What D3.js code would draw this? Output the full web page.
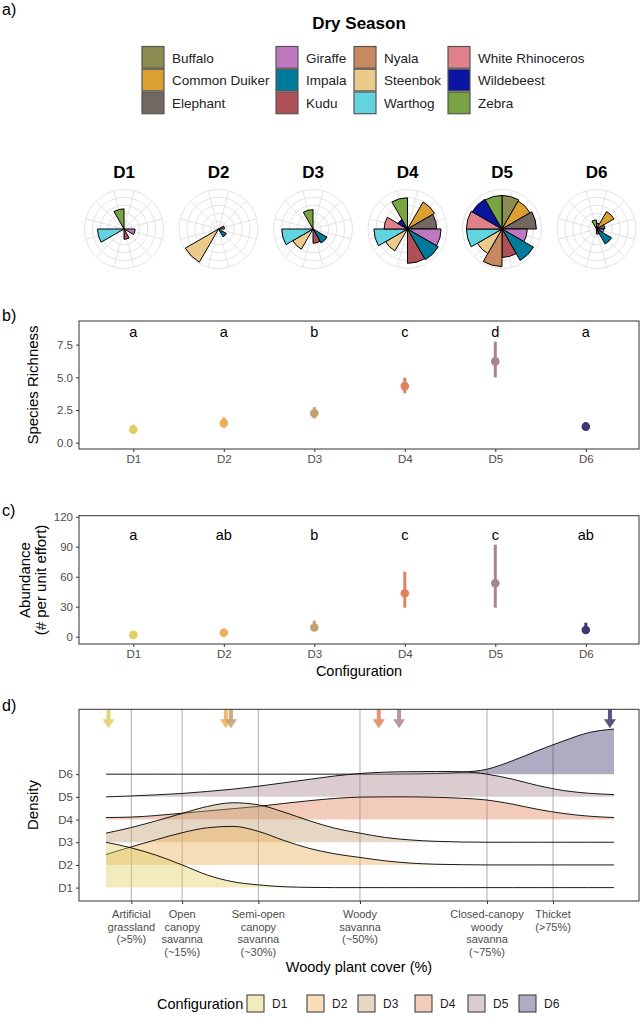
<!DOCTYPE html>
<html><head><meta charset="utf-8">
<script src="https://cdn.jsdelivr.net/npm/d3@7"></script>
<style>
body{margin:0;background:#fff}
svg{display:block}
text{font-family:"Liberation Sans",Arial,sans-serif}
</style>
</head><body>
<svg id="c" width="641" height="1020"></svg>
<script>
// ---------------- DATA ----------------
const species = ["Buffalo","Common Duiker","Elephant","Giraffe","Impala","Kudu","Nyala","Steenbok","Warthog","White Rhinoceros","Wildebeest","Zebra"];
const speciesColors = ["#8C8C52","#DCA032","#736860","#BE78BF","#007A9A","#AF5058","#C7895F","#EACB8A","#62D4E0","#E0808A","#0A149E","#79A443"];
const configs = ["D1","D2","D3","D4","D5","D6"];
const configColors = ["#DFCF62","#EDAE55","#C49F72","#E0825E","#A9858F","#3D3770"];

// polar (relative activity, same order as species)
const polarD1 = [0,0,0,2.8,0,2.6,0,0,6.7,0,0,5.1];
const polarD2 = [0,0,1.5,0,2.3,0,0,9.7,0,0,0,0];
const polarD3 = [0,0,0,0,4.1,3.6,0,5.9,7.9,0,0,4.9];
const polarD4 = [0,7.9,7.4,8.5,9.0,8.7,0,6.4,8.5,5.9,2.8,7.9];
const polarD5 = [8.5,8.2,8.7,6.4,9.2,7.2,9.5,7.2,9.0,9.0,8.7,8.5];
const polarD6 = [1.5,5.1,2.1,1.8,4.4,1.3,0,0,0,0,0,2.3];

// panel b: species richness
const richness   = [1.0,1.5,2.25,4.33,6.22,1.23];
const richnessLo = [0.7,1.15,1.86,3.78,5.0,0.95];
const richnessHi = [1.38,1.95,2.72,4.97,7.73,1.58];
const richnessLetters = ["a","a","b","c","d","a"];
const richnessTicks = [0,2.5,5,7.5];

// panel c: abundance
const abundance   = [1.8,4,9.2,43.5,53.5,6.7];
const abundanceLo = [0,1,6,29,29,3.5];
const abundanceHi = [5,8,16,65,92,14];
const abundanceLetters = ["a","ab","b","c","c","ab"];
const abundanceTicks = [0,30,60,90,120];

// panel d: woody cover density ridges
const coverBreaks = [5,15,30,50,75,88];
const coverLabels = [
  ["Artificial","grassland","(>5%)"],
  ["Open","canopy","savanna","(~15%)"],
  ["Semi-open","canopy","savanna","(~30%)"],
  ["Woody","savanna","(~50%)"],
  ["Closed-canopy","woody","savanna","(~75%)"],
  ["Thicket","(>75%)"]
];
const densityX  = [0,5,10,15,20,25,30,35,40,45,50,55,60,65,70,75,80,85,90,95,100];
const densityD1 = [2.0,1.75,1.42,1.0,0.55,0.26,0.12,0.04,0.01,0,0,0,0,0,0,0,0,0,0,0,0];
const densityD2 = [0.46,0.8,1.12,1.42,1.64,1.7,1.48,1.08,0.73,0.49,0.33,0.18,0.08,0.03,0.01,0,0,0,0,0,0];
const densityD3 = [0.4,0.65,0.95,1.27,1.58,1.74,1.65,1.33,0.95,0.62,0.4,0.21,0.1,0.04,0.01,0,0,0,0,0,0];
const densityD4 = [0.09,0.11,0.18,0.28,0.38,0.48,0.58,0.71,0.83,0.93,0.99,1.0,1.0,0.98,0.94,0.86,0.68,0.45,0.27,0.15,0.09];
const densityD5 = [0,0.04,0.09,0.15,0.24,0.34,0.47,0.62,0.77,0.92,1.03,1.09,1.11,1.12,1.11,1.0,0.78,0.5,0.28,0.16,0.1];
const densityD6 = [0,0,0,0,0,0,0,0,0,0,0,0,0.01,0.03,0.08,0.22,0.59,1.04,1.46,1.83,1.99];
const arrowX = [0.5,23.6,24.6,53.7,57.7,99.2];

// ---------------- DRAW ----------------
const svg = d3.select("#c");
const grayTxt = "#4D4D4D";

function label(t,x,y,size,opts={}){
  const e = svg.append("text").attr("x",x).attr("y",y).attr("font-size",size).text(t);
  if(opts.anchor) e.attr("text-anchor",opts.anchor);
  if(opts.bold) e.attr("font-weight","bold");
  if(opts.fill) e.attr("fill",opts.fill);
  if(opts.rot) e.attr("transform",`rotate(-90,${x},${y})`);
  return e;
}

// ---- panel a ----
label("a)",2,15,16);
label("Dry Season",359,29,17,{anchor:"middle",bold:true});
const legCols=[142,276,354,448], legRows=[46.5,69.2,92];
species.forEach((s,i)=>{
  const c=Math.floor(i/3), r=i%3;
  svg.append("rect").attr("x",legCols[c]).attr("y",legRows[r]).attr("width",22).attr("height",21.7)
    .attr("fill",speciesColors[i]).attr("stroke","#555").attr("stroke-width",1.2);
  label(s,legCols[c]+30,legRows[r]+16,13.5,{fill:"#222"});
});

const polarData=[polarD1,polarD2,polarD3,polarD4,polarD5,polarD6];
const R=39.5, cy=229;
const ang=d3.scaleBand().domain(species).range([0,2*Math.PI]);
const rad=d3.scaleLinear().domain([0,10]).range([0,R]);
const arc=d3.arc().innerRadius(0).outerRadius(d=>rad(d.v))
  .startAngle(d=>ang(d.s)).endAngle(d=>ang(d.s)+ang.bandwidth());
configs.forEach((cfg,k)=>{
  const cx=124+k*94.5;
  const g=svg.append("g").attr("transform",`translate(${cx},${cy})`);
  rad.ticks(5).filter(t=>t>0).forEach(t=>{
    g.append("circle").attr("r",rad(t)).attr("fill","none").attr("stroke","#DCDCDC").attr("stroke-width",0.8);
  });
  species.forEach(s=>{
    const a=ang(s)+ang.bandwidth()/2;
    g.append("line").attr("x1",0).attr("y1",0).attr("x2",R*Math.sin(a)).attr("y2",-R*Math.cos(a))
      .attr("stroke","#DCDCDC").attr("stroke-width",0.8);
  });
  const dat=species.map((s,i)=>({s,v:polarData[k][i],c:speciesColors[i]})).filter(d=>d.v>0);
  g.selectAll("path.bar").data(dat).join("path").attr("class","bar").attr("d",arc)
    .attr("fill",d=>d.c).attr("stroke","#000").attr("stroke-width",1);
  label(cfg,cx,178,17,{anchor:"middle",bold:true});
});

// ---- generic point-range panel ----
function pointPanel(top,bottom,domain,ticks,fmt,vals,lo,hi,letters,letterY,tag,tagY){
  const L=79, Rr=639;
  const x=d3.scalePoint().domain(configs).range([133.3,585.8]);
  const y=d3.scaleLinear().domain(domain).range([bottom,top]);
  label(tag,2,tagY,16);
  const ay=svg.append("g").attr("transform",`translate(${L},0)`)
    .call(d3.axisLeft(y).tickValues(ticks).tickFormat(fmt).tickSize(3).tickPadding(3));
  const ax=svg.append("g").attr("transform",`translate(0,${bottom})`)
    .call(d3.axisBottom(x).tickSize(3).tickPadding(3));
  [ay,ax].forEach(a=>{a.select(".domain").remove();
    a.selectAll("line").attr("stroke","#333");
    a.selectAll("text").attr("fill",grayTxt).attr("font-size",11.5).attr("font-family","Liberation Sans, Arial, sans-serif");});
  svg.append("rect").attr("x",L).attr("y",top).attr("width",Rr-L).attr("height",bottom-top)
    .attr("fill","none").attr("stroke","#333").attr("stroke-width",1);
  configs.forEach((c,i)=>{
    svg.append("line").attr("x1",x(c)).attr("x2",x(c)).attr("y1",y(lo[i])).attr("y2",y(hi[i]))
      .attr("stroke",configColors[i]).attr("stroke-width",3);
    svg.append("circle").attr("cx",x(c)).attr("cy",y(vals[i])).attr("r",4.3).attr("fill",configColors[i]);
    label(letters[i],x(c),y(letterY)+5,14.5,{anchor:"middle"});
  });
}
pointPanel(321,449,[-0.48,9.31],richnessTicks,d3.format(".1f"),richness,richnessLo,richnessHi,richnessLetters,8.5,"b)",321);
label("Species Richness",38,385,15,{anchor:"middle",rot:true});

pointPanel(515.7,644,[-7.3,121],abundanceTicks,d3.format("d"),abundance,abundanceLo,abundanceHi,abundanceLetters,102,"c)",516);
label("Abundance",29.5,580,15,{anchor:"middle",rot:true});
label("(# per unit effort)",46,580,15,{anchor:"middle",rot:true});
label("Configuration",359,676,14.5,{anchor:"middle"});

// ---- panel d ----
const dTop=709.3, dBot=901, dL=79, dR=639;
label("d)",2,711,16);
const xd=d3.scaleLinear().domain([-5.31,104.92]).range([dL,dR]);
const yd=d3.scaleLinear().domain([0.41,8.86]).range([dBot,dTop]);
coverBreaks.forEach(b=>{
  svg.append("line").attr("x1",xd(b)).attr("x2",xd(b)).attr("y1",dTop).attr("y2",dBot)
    .attr("stroke","#B5B5B5").attr("stroke-width",1.1);
});
const axd=svg.append("g").attr("transform",`translate(0,${dBot})`)
  .call(d3.axisBottom(xd).tickValues(coverBreaks).tickSize(3).tickFormat(""));
axd.select(".domain").remove(); axd.selectAll("line").attr("stroke","#333");
coverLabels.forEach((lines,i)=>{
  lines.forEach((t,j)=>label(t,xd(coverBreaks[i]),918+j*12.5,11,{anchor:"middle",fill:grayTxt}));
});
const ayd=svg.append("g").attr("transform",`translate(${dL},0)`)
  .call(d3.axisLeft(yd).tickValues([1,2,3,4,5,6]).tickFormat((d)=>configs[d-1]).tickSize(3).tickPadding(3));
ayd.select(".domain").remove(); ayd.selectAll("line").attr("stroke","#333");
ayd.selectAll("text").attr("fill",grayTxt).attr("font-size",11.5).attr("font-family","Liberation Sans, Arial, sans-serif");

const densities=[densityD1,densityD2,densityD3,densityD4,densityD5,densityD6];
for(let k=5;k>=0;k--){
  const base=k+1;
  const pts=densityX.map((x,i)=>({x,h:densities[k][i]}));
  const area=d3.area().x(d=>xd(d.x)).y0(yd(base)).y1(d=>yd(base+d.h)).curve(d3.curveMonotoneX);
  const line=d3.line().x(d=>xd(d.x)).y(d=>yd(base+d.h)).curve(d3.curveMonotoneX);
  svg.append("path").attr("d",area(pts)).attr("fill",configColors[k]).attr("fill-opacity",0.42);
  svg.append("path").attr("d",line(pts)).attr("fill","none").attr("stroke","#000").attr("stroke-width",0.9);
}
// arrows
arrowX.forEach((a,i)=>{
  const x=xd(a), y0=yd(8.86), y1=yd(8.03);
  const g=svg.append("g").attr("opacity",0.85);
  g.append("line").attr("x1",x).attr("x2",x).attr("y1",y0).attr("y2",y1-8).attr("stroke",configColors[i]).attr("stroke-width",4);
  g.append("path").attr("d",`M${x-6},${y1-9}L${x+6},${y1-9}L${x},${y1}Z`).attr("fill",configColors[i]);
});
svg.append("rect").attr("x",dL).attr("y",dTop).attr("width",dR-dL).attr("height",dBot-dTop)
  .attr("fill","none").attr("stroke","#333").attr("stroke-width",1);
label("Density",38,805,15,{anchor:"middle",rot:true});
label("Woody plant cover (%)",359,972,14.5,{anchor:"middle"});

// bottom legend
label("Configuration",157,1009,14.5);
const legX=[247,307,358,415,468,519];
configs.forEach((c,i)=>{
  svg.append("rect").attr("x",legX[i]).attr("y",995).attr("width",17).attr("height",17)
    .attr("fill",configColors[i]).attr("fill-opacity",0.42).attr("stroke","#333").attr("stroke-width",1);
  label(c,legX[i]+25,1008,12,{fill:"#222"});
});
</script>
</body></html>
